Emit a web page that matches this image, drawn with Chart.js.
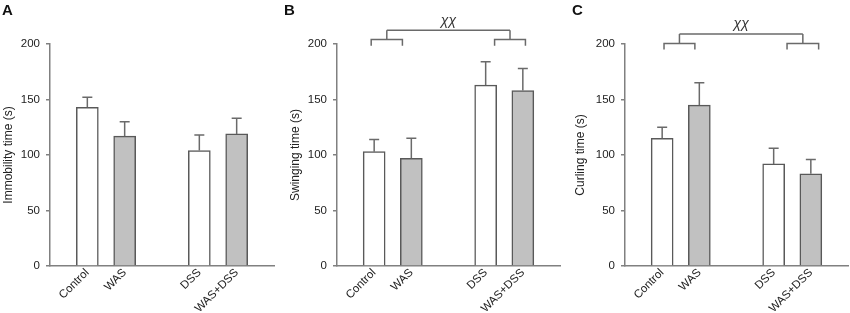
<!DOCTYPE html>
<html>
<head>
<meta charset="utf-8">
<script src="https://cdn.jsdelivr.net/npm/chart.js@4.4.0/dist/chart.umd.min.js"></script>
<style>
  html, body { margin: 0; padding: 0; background: #fff; }
  #wrap { position: relative; width: 850px; height: 313px; overflow: hidden; }
  canvas { position: absolute; top: 0; }
</style>
</head>
<body>
<div id="wrap">
  <canvas id="chart-a" width="283" height="313" style="left:0px"></canvas>
  <canvas id="chart-b" width="283" height="313" style="left:283px"></canvas>
  <canvas id="chart-c" width="284" height="313" style="left:566px"></canvas>
</div>
<script>
// groups and where they sit on the x axis (gap at 3 between the two pairs)
const groups = ['Control', 'WAS', 'DSS', 'WAS+DSS'];
const groupPos = [1, 2, 4, 5];

// means and SEM
const immobilityMean = [143, 117, 104, 119];
const immobilitySem = [9, 13, 14, 14];
const swingingMean = [103, 97, 163, 158];
const swingingSem = [11, 18, 21, 20];
const curlingMean = [115, 145, 92, 83];
const curlingSem = [10, 20, 14, 13];

const FONT = "'Liberation Sans', Arial, sans-serif";
const INK = '#6a6a6a';

function makeChart(id, cfg) {
    // error bars (upper whisker only)
    const errorBars = {
        id: 'errorBars',
        afterDatasetsDraw(chart) {
            const x = chart.scales.x, y = chart.scales.y, ctx = chart.ctx;
            ctx.save();
            ctx.strokeStyle = INK;
            ctx.lineWidth = 1.5;
            groupPos.forEach((p, i) => {
                const px = x.getPixelForValue(p);
                const y0 = y.getPixelForValue(cfg.mean[i]);
                const y1 = y.getPixelForValue(cfg.mean[i] + cfg.sem[i]);
                ctx.beginPath();
                ctx.moveTo(px, y0);
                ctx.lineTo(px, y1);
                ctx.moveTo(px - 5, y1);
                ctx.lineTo(px + 5, y1);
                ctx.stroke();
            });
            ctx.restore();
        }
    };

    // panel letter + significance bracket
    const extras = {
        id: 'extras',
        afterDraw(chart) {
            const x = chart.scales.x, y = chart.scales.y, ctx = chart.ctx;
            ctx.save();
            ctx.fillStyle = '#111';
            ctx.font = 'bold 15px ' + FONT;
            ctx.textBaseline = 'alphabetic';
            ctx.fillText(cfg.letter, cfg.letterX, 15);

            const b = cfg.bracket;
            if (b) {
                ctx.strokeStyle = INK;
                ctx.lineWidth = 1.5;
                const yb = y.getPixelForValue(b.level);
                const yLeg = y.getPixelForValue(b.level - 5.5);
                const yMain = y.getPixelForValue(b.level + 8.5);
                const mids = [];
                [b.left, b.right].forEach(([a, c]) => {
                    const xa = x.getPixelForValue(a), xc = x.getPixelForValue(c);
                    const xm = x.getPixelForValue((a + c) / 2);
                    mids.push(xm);
                    ctx.beginPath();
                    ctx.moveTo(xa, yLeg);
                    ctx.lineTo(xa, yb);
                    ctx.lineTo(xc, yb);
                    ctx.lineTo(xc, yLeg);
                    ctx.moveTo(xm, yb);
                    ctx.lineTo(xm, yMain);
                    ctx.stroke();
                });
                ctx.beginPath();
                ctx.moveTo(mids[0], yMain);
                ctx.lineTo(mids[1], yMain);
                ctx.stroke();
                ctx.fillStyle = '#333';
                ctx.font = 'italic 14px ' + FONT;
                ctx.textAlign = 'center';
                ctx.textBaseline = 'middle';
                ctx.fillText(b.text, (mids[0] + mids[1]) / 2, yMain - 9.5);
            }
            ctx.restore();
        }
    };

    return new Chart(document.getElementById(id), {
        type: 'bar',
        data: {
            datasets: [{
                data: groupPos.map((p, i) => ({ x: p, y: cfg.mean[i] })),
                backgroundColor: groups.map((g, i) => i % 2 ? '#c1c1c1' : '#ffffff'),
                borderColor: '#595959',
                borderWidth: 1.5,
                barThickness: 22
            }]
        },
        options: {
            responsive: false,
            animation: false,
            layout: { padding: { top: 44, right: cfg.padRight, left: 0, bottom: 0 } },
            plugins: { legend: { display: false }, tooltip: { enabled: false } },
            scales: {
                x: {
                    type: 'linear',
                    offset: false,
                    min: 0,
                    max: 6,
                    grid: { display: false, drawTicks: false },
                    border: { color: '#808080', width: 1.5 },
                    ticks: {
                        stepSize: 1,
                        autoSkip: false,
                        minRotation: 45,
                        maxRotation: 45,
                        padding: 0,
                        color: '#222',
                        font: { size: 11.5, family: FONT },
                        callback: v => {
                            const k = groupPos.indexOf(v);
                            return k >= 0 ? groups[k] : '';
                        }
                    },
                    afterFit: s => {
                        s.height = 47;
                        s.paddingLeft = 0;
                        s.paddingRight = 0;
                    }
                },
                y: {
                    min: 0,
                    max: 200,
                    grid: { drawOnChartArea: false, tickLength: 4, color: '#808080', lineWidth: 1.5 },
                    border: { color: '#808080', width: 1.5 },
                    ticks: { stepSize: 50, padding: 6, color: '#222', font: { size: 11.5, family: FONT } },
                    title: {
                        display: true,
                        text: cfg.title,
                        color: '#222',
                        font: { size: 12, family: FONT },
                        padding: { top: cfg.titlePad, bottom: 0 }
                    },
                    afterFit: s => { s.width = cfg.yWidth; }
                }
            }
        },
        plugins: [errorBars, extras]
    });
}

makeChart('chart-a', {
    mean: immobilityMean, sem: immobilitySem, title: 'Immobility time (s)',
    letter: 'A', letterX: 2, yWidth: 50, padRight: 9, titlePad: 1
});
makeChart('chart-b', {
    mean: swingingMean, sem: swingingSem, title: 'Swinging time (s)',
    letter: 'B', letterX: 1, yWidth: 54, padRight: 6, titlePad: 5,
    bracket: { text: 'χχ', left: [0.92, 1.76], right: [4.24, 5.07], level: 204 }
});
makeChart('chart-c', {
    mean: curlingMean, sem: curlingSem, title: 'Curling time (s)',
    letter: 'C', letterX: 6, yWidth: 59, padRight: 2, titlePad: 7,
    bracket: { text: 'χχ', left: [1.05, 1.88], right: [4.36, 5.21], level: 200.5 }
});
</script>
</body>
</html>
